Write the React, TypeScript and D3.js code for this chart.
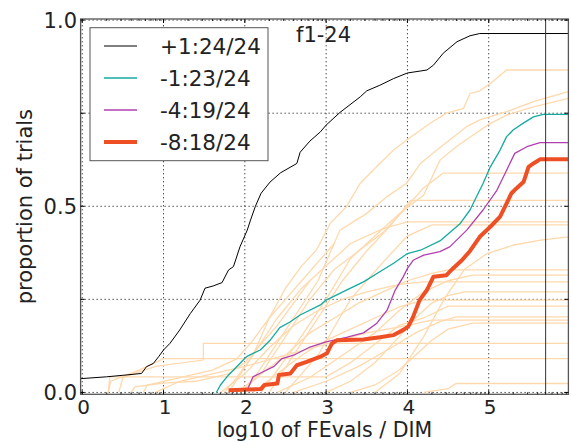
import React from "react";
import * as d3 from "d3";

type Pt = [number, number];

const xTicks = [0, 1, 2, 3, 4, 5];
const yGrid = [0, 0.25, 0.5, 0.75, 1];
const yTickLabels: [number, string][] = [[0, "0.0"], [0.5, "0.5"], [1, "1.0"]];
const budgetMarker = 5.7;
const title = "f1-24";
const xLabel = "log10 of FEvals / DIM";
const yLabel = "proportion of trials";

const plus1: Pt[] = [
  [-0.02, 0.037], [0.3, 0.042], [0.5, 0.046], [0.73, 0.051], [0.79, 0.069], [0.875, 0.078],
  [0.94, 0.096], [1.0, 0.114], [1.08, 0.132], [1.2, 0.168], [1.33, 0.212], [1.45, 0.248],
  [1.51, 0.28], [1.61, 0.286], [1.72, 0.295], [1.8, 0.329], [1.86, 0.338], [1.94, 0.391],
  [2.03, 0.436], [2.07, 0.463], [2.13, 0.5], [2.2, 0.535], [2.31, 0.565], [2.44, 0.59],
  [2.64, 0.615], [2.68, 0.645], [2.8, 0.675], [2.93, 0.7], [3.0, 0.718], [3.17, 0.752],
  [3.42, 0.794], [3.5, 0.81], [3.66, 0.825], [3.83, 0.843], [4.0, 0.858], [4.24, 0.866],
  [4.32, 0.879], [4.44, 0.911], [4.61, 0.942], [4.77, 0.958], [4.89, 0.964], [5.98, 0.964],
];

const minus1: Pt[] = [
  [1.65, 0.0], [1.7, 0.02], [1.78, 0.042], [1.9, 0.069], [2.02, 0.096], [2.19, 0.114],
  [2.31, 0.14], [2.43, 0.174], [2.56, 0.19], [2.68, 0.208], [2.93, 0.235], [3.0, 0.248],
  [3.25, 0.275], [3.46, 0.297], [3.66, 0.324], [3.83, 0.347], [4.0, 0.373], [4.16, 0.382],
  [4.4, 0.407], [4.65, 0.454], [4.77, 0.49], [4.81, 0.508], [4.93, 0.561], [5.02, 0.606],
  [5.14, 0.651], [5.22, 0.687], [5.3, 0.705], [5.43, 0.724], [5.55, 0.74], [5.67, 0.747],
  [5.98, 0.747],
];

const minus4: Pt[] = [
  [2.04, 0.011], [2.1, 0.042], [2.22, 0.055], [2.36, 0.07], [2.45, 0.09], [2.6, 0.1],
  [2.8, 0.122], [3.0, 0.136], [3.25, 0.148], [3.46, 0.16], [3.62, 0.185], [3.75, 0.221],
  [3.85, 0.275], [3.95, 0.311], [4.0, 0.333], [4.07, 0.355], [4.2, 0.369], [4.4, 0.378],
  [4.52, 0.391], [4.73, 0.436], [4.93, 0.49], [5.1, 0.543], [5.22, 0.597], [5.32, 0.642],
  [5.47, 0.66], [5.63, 0.671], [5.98, 0.671],
];

const minus8: Pt[] = [
  [1.8, 0.006], [2.2, 0.009], [2.24, 0.02], [2.4, 0.024], [2.42, 0.047], [2.56, 0.051],
  [2.64, 0.073], [2.76, 0.082], [2.93, 0.096], [3.01, 0.105], [3.07, 0.131], [3.13, 0.14],
  [3.46, 0.142], [3.66, 0.148], [3.83, 0.154], [3.95, 0.168], [4.01, 0.177], [4.07, 0.203],
  [4.15, 0.248], [4.24, 0.275], [4.32, 0.311], [4.48, 0.315], [4.56, 0.333], [4.67, 0.355],
  [4.77, 0.38], [4.89, 0.418], [5.02, 0.445], [5.14, 0.472], [5.22, 0.508], [5.28, 0.535],
  [5.34, 0.548], [5.43, 0.566], [5.49, 0.606], [5.55, 0.615], [5.63, 0.626], [5.98, 0.626],
];

const perFunction: Pt[][] = [
  [[1.75, 0], [1.9, 0.04], [2.1, 0.1], [2.3, 0.2], [2.5, 0.28], [2.7, 0.34], [2.88, 0.382], [3.05, 0.454], [3.25, 0.499], [3.42, 0.562], [3.66, 0.615], [3.83, 0.651], [3.99, 0.678], [4.28, 0.723], [4.48, 0.75], [4.69, 0.763], [4.77, 0.803], [4.89, 0.81], [5.02, 0.83], [5.22, 0.866], [5.98, 0.866]],
  [[2.0, 0], [2.3, 0.1], [2.6, 0.2], [2.9, 0.3], [3.17, 0.436], [3.5, 0.481], [3.75, 0.526], [3.99, 0.562], [4.16, 0.615], [4.36, 0.651], [4.57, 0.687], [4.73, 0.714], [4.89, 0.732], [5.22, 0.754], [5.55, 0.781], [5.75, 0.794], [5.98, 0.808]],
  [[2.2, 0], [2.6, 0.12], [3.0, 0.25], [3.3, 0.36], [3.6, 0.42], [3.9, 0.48], [4.2, 0.53], [4.4, 0.624], [4.6, 0.66], [4.8, 0.69], [5.0, 0.72], [5.22, 0.745], [5.55, 0.767], [5.98, 0.79]],
  [[1.9, 0], [2.2, 0.05], [2.5, 0.15], [2.8, 0.25], [3.1, 0.33], [3.4, 0.38], [3.7, 0.43], [4.0, 0.5], [4.2, 0.55], [4.44, 0.589], [5.98, 0.589]],
  [[2.3, 0], [2.6, 0.1], [2.9, 0.2], [3.2, 0.3], [3.5, 0.38], [3.8, 0.45], [4.04, 0.516], [5.98, 0.516]],
  [[1.8, 0], [2.1, 0.1], [2.4, 0.2], [2.7, 0.28], [3.0, 0.34], [3.3, 0.4], [3.7, 0.44], [4.0, 0.458], [5.98, 0.458]],
  [[2.5, 0], [2.9, 0.1], [3.3, 0.25], [3.7, 0.35], [4.0, 0.42], [4.3, 0.45], [5.98, 0.45]],
  [[3.6, 0], [3.9, 0.05], [4.2, 0.15], [4.45, 0.25], [4.7, 0.33], [4.98, 0.373], [5.31, 0.396], [5.64, 0.409], [5.98, 0.418]],
  [[1.95, 0], [2.2, 0.05], [2.5, 0.1], [2.8, 0.16], [3.1, 0.2], [3.4, 0.24], [3.7, 0.27], [4.0, 0.3], [4.3, 0.32], [4.5, 0.329], [5.98, 0.329]],
  [[2.4, 0], [2.8, 0.04], [3.2, 0.1], [3.6, 0.16], [3.9, 0.22], [4.2, 0.27], [4.5, 0.3], [4.8, 0.315], [5.98, 0.315]],
  [[1.7, 0], [2.0, 0.05], [2.3, 0.12], [2.6, 0.18], [2.9, 0.22], [3.2, 0.25], [3.5, 0.27], [3.9, 0.29], [4.2, 0.297], [5.98, 0.297]],
  [[3.0, 0], [3.3, 0.03], [3.6, 0.08], [3.9, 0.15], [4.1, 0.2], [4.3, 0.24], [4.5, 0.26], [4.7, 0.27], [5.98, 0.27]],
  [[2.1, 0], [2.4, 0.05], [2.7, 0.1], [3.0, 0.14], [3.3, 0.17], [3.6, 0.2], [3.9, 0.23], [4.2, 0.248], [5.98, 0.248]],
  [[0.32, 0], [0.34, 0.042], [3.0, 0.042], [3.3, 0.08], [3.6, 0.13], [3.9, 0.18], [4.2, 0.2], [4.5, 0.232], [5.98, 0.232]],
  [[2.6, 0], [3.0, 0.03], [3.4, 0.07], [3.8, 0.12], [4.1, 0.16], [4.4, 0.19], [4.6, 0.203], [5.98, 0.203]],
  [[0.9, 0], [1.2, 0.03], [1.6, 0.05], [2.0, 0.07], [2.5, 0.1], [3.0, 0.13], [3.5, 0.16], [4.0, 0.18], [4.3, 0.194], [5.98, 0.194]],
  [[3.3, 0], [3.6, 0.02], [3.9, 0.06], [4.1, 0.1], [4.3, 0.14], [4.5, 0.17], [4.8, 0.186], [5.98, 0.186]],
  [[0.45, 0], [0.5, 0.04], [0.9, 0.07], [1.49, 0.087], [1.49, 0.132], [5.98, 0.132]],
  [[0.32, 0], [0.35, 0.03], [0.7, 0.06], [1.0, 0.091], [5.98, 0.091]],
  [[4.2, 0], [4.5, 0.01], [4.6, 0.024], [5.98, 0.024]],
  [[0.75, 0], [0.8, 0.02], [1.2, 0.04], [1.6, 0.06], [1.9, 0.09], [2.1, 0.14], [2.3, 0.2], [2.5, 0.25], [2.7, 0.3], [2.9, 0.35], [3.1, 0.4]],
  [[0.6, 0], [0.65, 0.015], [1.0, 0.025], [1.4, 0.03], [1.8, 0.05], [2.0, 0.08], [2.2, 0.13], [2.4, 0.18], [2.6, 0.24], [2.8, 0.3]],
];

const legendEntries = [
  { label: "+1:24/24", color: "#000000", width: 1 },
  { label: "-1:23/24", color: "#14aaa0", width: 1.3 },
  { label: "-4:19/24", color: "#b040b0", width: 1.3 },
  { label: "-8:18/24", color: "#ee4f24", width: 4 },
];
const mainSeries: Pt[][] = [plus1, minus1, minus4, minus8];

export default function App() {
  const W = 571, H = 442;
  const x = d3.scaleLinear().domain([-0.02, 5.98]).range([80.6, 568.4]);
  const y = d3.scaleLinear().domain([-0.005, 1.003]).range([394.3, 19]);
  const line = d3.line<Pt>().x((d) => x(d[0])).y((d) => y(d[1]));
  const [x0, x1] = x.range();
  const [y0, y1] = y.range();
  const font = "DejaVu Sans, sans-serif";
  const minor: number[] = [];
  for (let k = 0; k < 6; k++) for (let m = 2; m < 10; m++) {
    const v = k + Math.log10(m);
    if (v < 5.98) minor.push(v);
  }
  return (
    <svg width={W} height={H} style={{ position: "absolute", left: 0, top: 0, background: "#fff" }} fontFamily={font}>
      <rect x={0} y={0} width={W} height={H} fill="#fff" />
      {xTicks.map((t) => (
        <line key={"gx" + t} x1={x(t)} x2={x(t)} y1={y0} y2={y1} stroke="#000" strokeWidth={1} strokeDasharray="1,3" />
      ))}
      {yGrid.map((t) => (
        <line key={"gy" + t} x1={x0} x2={x1} y1={y(t)} y2={y(t)} stroke="#000" strokeWidth={1} strokeDasharray="1,3" />
      ))}
      {perFunction.map((c, i) => (
        <path key={"pf" + i} d={line(c) || ""} fill="none" stroke="#ffd9ad" strokeWidth={1.3} />
      ))}
      {mainSeries.map((c, i) => (
        <path key={"ms" + i} d={line(c) || ""} fill="none" stroke={legendEntries[i].color}
          strokeWidth={legendEntries[i].width} strokeLinejoin="round" />
      ))}
      <line x1={x(budgetMarker)} x2={x(budgetMarker)} y1={y0} y2={y1} stroke="#333" strokeWidth={1} />
      <rect x={x0} y={y1} width={x1 - x0} height={y0 - y1} fill="none" stroke="#555" strokeWidth={1.3} />
      {xTicks.map((t) => (
        <g key={"tx" + t}>
          <line x1={x(t)} x2={x(t)} y1={y0} y2={y0 - 4} stroke="#000" />
          <line x1={x(t)} x2={x(t)} y1={y1} y2={y1 + 4} stroke="#000" />
        </g>
      ))}
      {minor.map((t, i) => (
        <g key={"mx" + i}>
          <line x1={x(t)} x2={x(t)} y1={y0} y2={y0 - 2} stroke="#000" strokeWidth={0.8} />
          <line x1={x(t)} x2={x(t)} y1={y1} y2={y1 + 2} stroke="#000" strokeWidth={0.8} />
        </g>
      ))}
      {yGrid.map((t) => (
        <g key={"ty" + t}>
          <line x1={x0} x2={x0 + 4} y1={y(t)} y2={y(t)} stroke="#000" />
          <line x1={x1} x2={x1 - 4} y1={y(t)} y2={y(t)} stroke="#000" />
        </g>
      ))}
      {xTicks.map((t) => (
        <text key={"lx" + t} x={x(t) + 1.5} y={413.5} fontSize={20} textAnchor="middle" fill="#222">{t}</text>
      ))}
      {yTickLabels.map(([v, s]) => (
        <text key={"ly" + v} x={77} y={y(v) + 7.5} fontSize={21} textAnchor="end" fill="#222">{s}</text>
      ))}
      <text x={(x0 + x1) / 2} y={437} fontSize={20.5} textAnchor="middle" fill="#222">{xLabel}</text>
      <text transform={`translate(32,${(y0 + y1) / 2}) rotate(-90)`} fontSize={21} textAnchor="middle" fill="#222">{yLabel}</text>
      <text x={296} y={41.5} fontSize={21} fill="#222">{title}</text>
      <rect x={90} y={27.7} width={178} height={133} fill="#fff" stroke="#555" strokeWidth={1} />
      {legendEntries.map((e, i) => {
        const ly = 46 + i * 32;
        return (
          <g key={"lg" + i}>
            <line x1={104} x2={137} y1={ly} y2={ly} stroke={e.color} strokeWidth={e.width} />
            <text x={160} y={ly + 8} fontSize={21.5} fill="#222">{e.label}</text>
          </g>
        );
      })}
    </svg>
  );
}
